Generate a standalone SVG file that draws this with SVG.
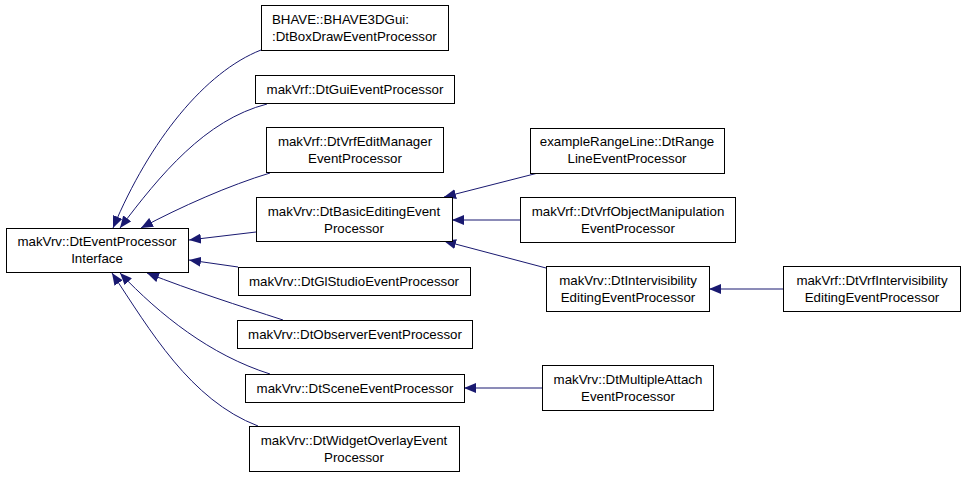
<svg xmlns="http://www.w3.org/2000/svg" width="965" height="477" viewBox="0 0 965 477">
<style>
.n rect{fill:#fff;stroke:#000;stroke-width:1}
.n text{font-family:"Liberation Sans",Arial,sans-serif;font-size:13.3px;fill:#000;text-anchor:middle}
.e path{fill:none;stroke:#191970;stroke-width:1}
</style>
<defs>
<marker id="a" viewBox="0 0 12 10" refX="12" refY="5" markerWidth="12" markerHeight="10" markerUnits="userSpaceOnUse" orient="auto">
<path d="M0,0 L12,5 L0,10 Z" fill="#191970"/>
</marker>
</defs>
<rect width="965" height="477" fill="#fff"/>
<g class="e" marker-end="url(#a)">
<path d="M261,50 C205,72 150,140 113,228" marker-end="url(#a)"/>
<path d="M267,104 C205,120 160,175 120,228" marker-end="url(#a)"/>
<path d="M270,173 C230,185 180,207 141,228" marker-end="url(#a)"/>
<path d="M256,232 L189,240" marker-end="url(#a)"/>
<path d="M238,267 L189,260" marker-end="url(#a)"/>
<path d="M283,320 C240,306 190,290 147,273" marker-end="url(#a)"/>
<path d="M270,374 C210,355 160,315 120,273" marker-end="url(#a)"/>
<path d="M258,426 C190,400 150,330 112,273" marker-end="url(#a)"/>
<path d="M538,173 L444,197" marker-end="url(#a)"/>
<path d="M520,220 L452,220" marker-end="url(#a)"/>
<path d="M546,268 L444,241" marker-end="url(#a)"/>
<path d="M783,289 L709,289" marker-end="url(#a)"/>
<path d="M542,388 L464,388" marker-end="url(#a)"/>
</g>
<g id="base" class="n"><rect x="6.5" y="228.5" width="182" height="44"/><text x="97" y="246">makVrv::DtEventProcessor</text><text x="97" y="263">Interface</text></g>
<g id="bhave" class="n"><rect x="261.5" y="5.5" width="187" height="45"/><text x="272" y="24" style="text-anchor:start">BHAVE::BHAVE3DGui:</text><text x="272" y="41" style="text-anchor:start">:DtBoxDrawEventProcessor</text></g>
<g id="gui" class="n"><rect x="255.5" y="75.5" width="199" height="28"/><text x="355" y="94">makVrf::DtGuiEventProcessor</text></g>
<g id="editmgr" class="n"><rect x="266.5" y="127.5" width="177" height="45"/><text x="355" y="146">makVrf::DtVrfEditManager</text><text x="355" y="163">EventProcessor</text></g>
<g id="basicedit" class="n"><rect x="256.5" y="197.5" width="196" height="44"/><text x="354" y="216">makVrv::DtBasicEditingEvent</text><text x="354" y="233">Processor</text></g>
<g id="glstudio" class="n"><rect x="238.5" y="267.5" width="232" height="28"/><text x="354" y="286">makVrv::DtGlStudioEventProcessor</text></g>
<g id="observer" class="n"><rect x="237.5" y="320.5" width="235" height="28"/><text x="355" y="339">makVrv::DtObserverEventProcessor</text></g>
<g id="scene" class="n"><rect x="245.5" y="374.5" width="219" height="28"/><text x="355" y="393">makVrv::DtSceneEventProcessor</text></g>
<g id="widget" class="n"><rect x="249.5" y="426.5" width="210" height="45"/><text x="354" y="445">makVrv::DtWidgetOverlayEvent</text><text x="354" y="462">Processor</text></g>
<g id="rangeline" class="n"><rect x="530.5" y="128.5" width="194" height="45"/><text x="627" y="146">exampleRangeLine::DtRange</text><text x="627" y="163">LineEventProcessor</text></g>
<g id="objmanip" class="n"><rect x="520.5" y="197.5" width="215" height="45"/><text x="628" y="216">makVrf::DtVrfObjectManipulation</text><text x="628" y="233">EventProcessor</text></g>
<g id="intervis" class="n"><rect x="546.5" y="266.5" width="163" height="45"/><text x="628" y="285">makVrv::DtIntervisibility</text><text x="628" y="302">EditingEventProcessor</text></g>
<g id="vrfintervis" class="n"><rect x="783.5" y="266.5" width="177" height="45"/><text x="872" y="285">makVrf::DtVrfIntervisibility</text><text x="872" y="302">EditingEventProcessor</text></g>
<g id="multiattach" class="n"><rect x="542.5" y="365.5" width="171" height="45"/><text x="628" y="384">makVrv::DtMultipleAttach</text><text x="628" y="401">EventProcessor</text></g>
</svg>
